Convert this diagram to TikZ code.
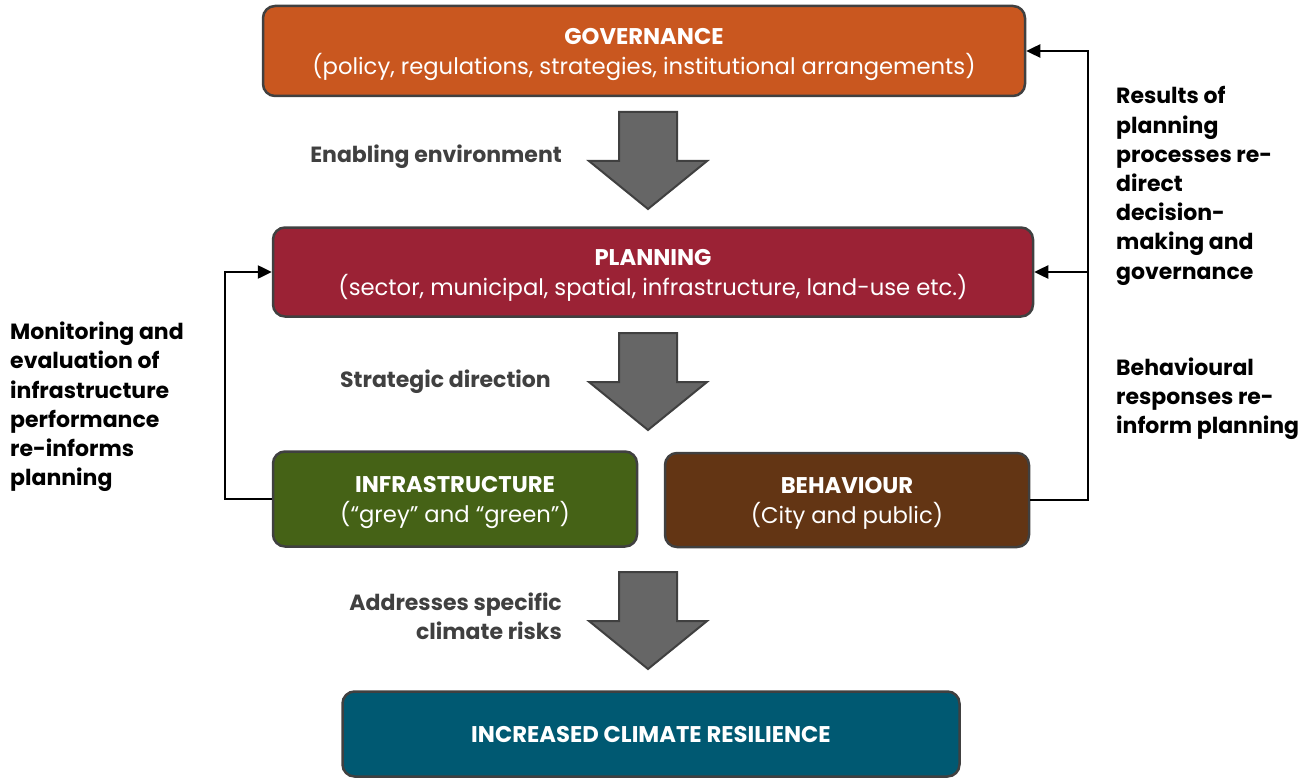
\documentclass[tikz,border=0pt]{standalone}
\usepackage{fontspec}
\setmainfont{Poppins}
\usetikzlibrary{arrows.meta}

\definecolor{govcol}{RGB}{201,87,31}
\definecolor{plancol}{RGB}{155,34,53}
\definecolor{infcol}{RGB}{69,98,22}
\definecolor{behcol}{RGB}{99,53,20}
\definecolor{rescol}{RGB}{0,89,114}
\definecolor{edgecol}{RGB}{64,64,64}
\definecolor{arrcol}{RGB}{102,102,102}

\newcommand{\blockarrow}[2]{%
\draw[bigarrow] (#1-29,#2) -- (#1+29,#2) -- (#1+29,#2+49) -- (#1+59,#2+49)
  -- (#1,#2+97) -- (#1-59,#2+49) -- (#1-29,#2+49) -- cycle;}

\begin{document}
\begin{tikzpicture}[x=1pt,y=-1pt,
  box/.style={draw=edgecol,line width=2.5pt,rounded corners=12pt,text=white,
    align=center,text depth=0pt,font=\fontsize{22.7}{30}\selectfont},
  bigarrow/.style={draw=edgecol,line width=2pt,fill=arrcol,line join=miter},
  midlabel/.style={text=edgecol,font=\fontsize{22}{29}\selectfont\bfseries,inner sep=0pt},
  sidelabel/.style={text=black,align=left,font=\fontsize{22}{29.2}\selectfont\bfseries,inner sep=0pt},
  fb/.style={draw=black,line width=2.5pt,-{Triangle[length=14pt,width=13pt]}}]
\useasboundingbox (0,0) rectangle (1311,778);

\node[box,fill=govcol,minimum width=762pt,minimum height=90pt] (gov) at (644,51)
  {\textbf{GOVERNANCE}\\(policy, regulations, strategies, institutional arrangements)};
\node[box,fill=plancol,minimum width=760pt,minimum height=89pt] (plan) at (653,272)
  {\textbf{PLANNING}\\(sector, municipal, spatial, infrastructure, land-use etc.)};
\node[box,fill=infcol,minimum width=364pt,minimum height=95pt] (infra) at (455,499)
  {\textbf{INFRASTRUCTURE}\\(“grey” and “green”)};
\node[box,fill=behcol,minimum width=364pt,minimum height=94pt] (behav) at (847,500)
  {\textbf{BEHAVIOUR}\\(City and public)};
\node[box,fill=rescol,minimum width=617pt,minimum height=85pt] (resil) at (651,734)
  {\textbf{INCREASED CLIMATE RESILIENCE}};

\blockarrow{648}{112}
\blockarrow{648}{333}
\blockarrow{648}{572}

\node[midlabel,anchor=east] (enab) at (562,157) {Enabling environment};
\node[midlabel,anchor=east] (strat) at (551,382) {Strategic direction};
\node[midlabel,anchor=east,align=right] (addr) at (562,616) {Addresses specific\\climate risks};

\node[sidelabel,anchor=west] (monit) at (10,407)
  {Monitoring and\\evaluation of\\infrastructure\\performance\\re-informs\\planning};
\node[sidelabel,anchor=west] (redir) at (1116,186)
  {Results of\\planning\\processes re-\\direct\\decision-\\making and\\governance};
\node[sidelabel,anchor=west] (behresp) at (1116,399)
  {Behavioural\\responses re-\\inform planning};

\draw[fb] (infra.west) -- +(-47,0) |- (plan.west);
\coordinate (rbus) at (1088,500);
\draw[fb] (behav.east) -- (rbus) |- (gov.east);
\draw[fb] (rbus |- plan.east) -- (plan.east);
\end{tikzpicture}
\end{document}
